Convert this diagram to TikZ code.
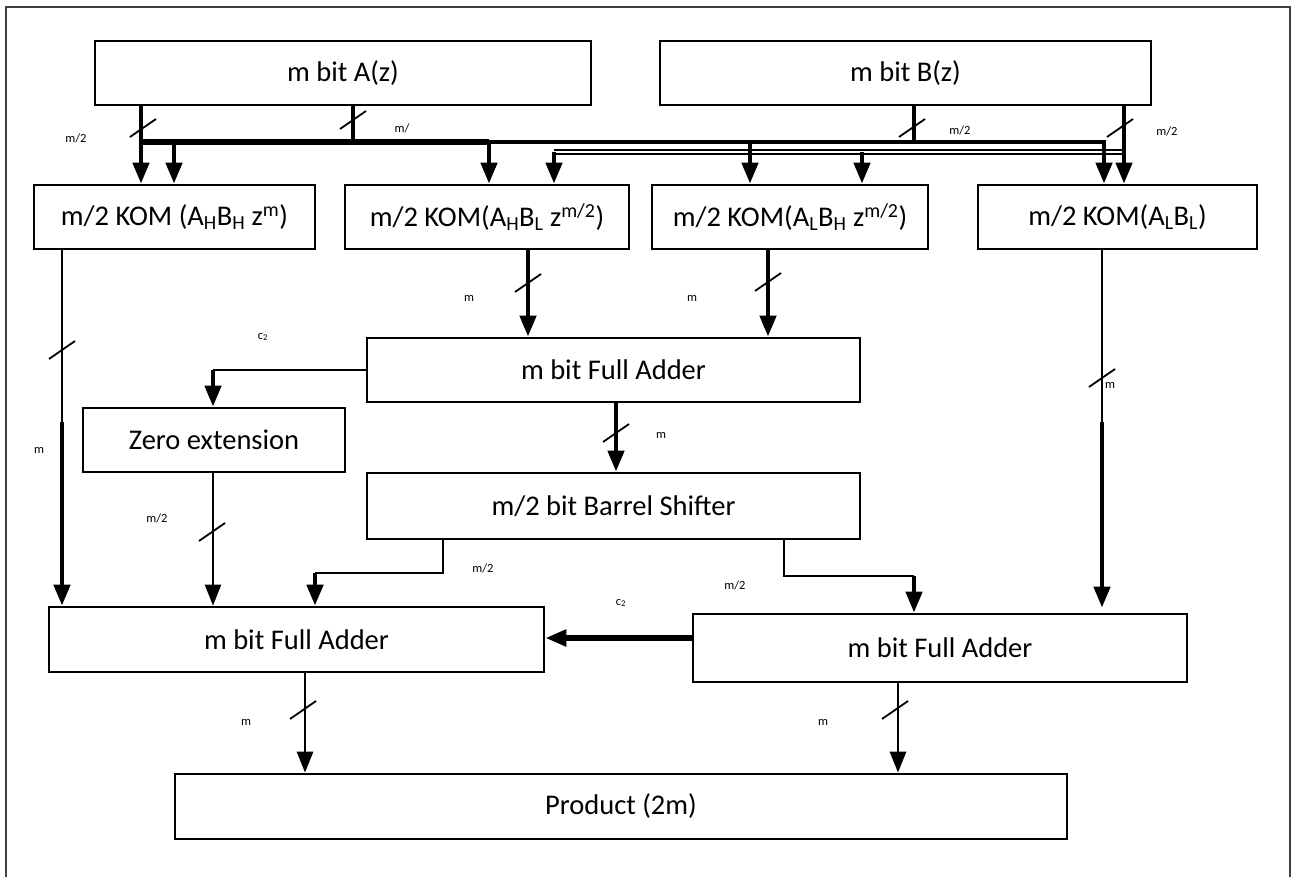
\documentclass[tikz,border=0pt]{standalone}
\usepackage{fontspec}
\setmainfont{Carlito}
\usetikzlibrary{arrows.meta,calc}
\tikzset{
  box/.style={draw,line width=2.7pt,fill=white,inner sep=0pt,font=\fontsize{28.5}{32}\selectfont},
  lbl/.style={font=\fontsize{12.5}{14}\selectfont,inner sep=0pt},
  wire/.style={line width=2.2pt},
  bus/.style={line width=4.5pt},
  tip/.style={-{Triangle[length=21pt,width=16pt]}},
  hollow/.style={line width=1.4pt,double=white,double distance=2.8pt},
  slashmark/.pic={\draw[line width=1.8pt] (-13,9) -- (13,-9);}
}
\begin{document}
\begin{tikzpicture}[x=1pt,y=-1pt,line join=miter]
\useasboundingbox (0,0) rectangle (1294,877);
\draw[line width=2.4pt,black!75] (6,880) -- (6,7) -- (1290,7) -- (1290,880);

% boxes
\node[box,minimum width=496pt,minimum height=64pt] (A) at (343,73) {m bit A(z)};
\node[box,minimum width=491pt,minimum height=64pt] (B) at (905.5,73) {m bit B(z)};
\node[box,minimum width=281pt,minimum height=64pt] (K1) at (174.5,217) {m/2 KOM (A\textsubscript{H}B\textsubscript{H} z\textsuperscript{m})};
\node[box,minimum width=284pt,minimum height=64pt] (K2) at (487,217) {m/2 KOM(A\textsubscript{H}B\textsubscript{L} z\textsuperscript{m/2})};
\node[box,minimum width=276pt,minimum height=64pt] (K3) at (790,217) {m/2 KOM(A\textsubscript{L}B\textsubscript{H} z\textsuperscript{m/2})};
\node[box,minimum width=279pt,minimum height=64pt] (K4) at (1117.5,217) {m/2 KOM(A\textsubscript{L}B\textsubscript{L})};
\node[box,minimum width=493pt,minimum height=64pt] (FAm) at (613.5,370) {m bit Full Adder};
\node[box,minimum width=262pt,minimum height=64pt] (Zero) at (214,440) {Zero extension};
\node[box,minimum width=493pt,minimum height=66pt] (Bar) at (613.5,506) {m/2 bit Barrel Shifter};
\node[box,minimum width=495pt,minimum height=65pt] (FAL) at (296.5,639.5) {m bit Full Adder};
\node[box,minimum width=494pt,minimum height=68pt] (FAR) at (940,648) {m bit Full Adder};
\node[box,minimum width=892pt,minimum height=65pt] (Prod) at (621,806.5) {Product (2m)};

% columns and rows
\coordinate (xA1) at (141,0);
\coordinate (xA2) at (353,0);
\coordinate (xb1) at (174,0);
\coordinate (xb2) at (489,0);
\coordinate (xb3) at (750,0);
\coordinate (xb4) at (1104,0);
\coordinate (xB1) at (914,0);
\coordinate (xB2) at (1124,0);
\coordinate (xh1) at (554,0);
\coordinate (xh2) at (862,0);
\coordinate (ybus) at (0,142);
\coordinate (yhol) at (0,152);
\coordinate (xk1) at (62,0);
\coordinate (xk2) at (528,0);
\coordinate (xk3) at (768,0);
\coordinate (xk4) at (1102,0);
\coordinate (ymid) at (0,422);
\coordinate (xz) at (213,0);
\coordinate (xf) at (616,0);
\coordinate (xs1) at (443,0);
\coordinate (xs2) at (315,0);
\coordinate (xs3) at (784,0);
\coordinate (xs4) at (914,0);
\coordinate (ys1) at (0,573);
\coordinate (ys2) at (0,576);
\coordinate (ycar) at (0,638);
\coordinate (xp1) at (305,0);
\coordinate (xp2) at (898,0);

% top distribution
\draw[hollow] (xh1 |- yhol) -- (xB2 |- yhol);
\draw[bus,tip] (A.south -| xA1) -- (K1.north -| xA1);
\draw[bus] (A.south -| xA2) -- (xA2 |- ybus);
\draw[bus,tip] (xA1 |- ybus) -- (xb4 |- ybus) -- (K4.north -| xb4);
\draw[line width=6pt] (xA1 |- ybus) -- (xb2 |- ybus);
\draw[bus,tip] (xb1 |- ybus) -- (K1.north -| xb1);
\draw[bus,tip] (xb2 |- ybus) -- (K2.north -| xb2);
\draw[bus,tip] (xb3 |- ybus) -- (K3.north -| xb3);
\draw[bus] (B.south -| xB1) -- (xB1 |- ybus);
\draw[bus,tip] (B.south -| xB2) -- (K4.north -| xB2);
\draw[bus,tip] (xh1 |- yhol) -- (K2.north -| xh1);
\draw[bus,tip] (xh2 |- yhol) -- (K3.north -| xh2);

% middle
\draw[wire] (K1.south -| xk1) -- (xk1 |- ymid);
\draw[bus,tip] (xk1 |- ymid) -- (FAL.north -| xk1);
\draw[bus,tip] (K2.south -| xk2) -- (FAm.north -| xk2);
\draw[bus,tip] (K3.south -| xk3) -- (FAm.north -| xk3);
\draw[wire] (K4.south -| xk4) -- (xk4 |- ymid);
\draw[bus,tip,shorten >=5pt] (xk4 |- ymid) -- (FAR.north -| xk4);
\draw[wire] (FAm.west) -- (FAm.west -| xz);
\draw[bus,tip] (FAm.west -| xz) -- (Zero.north -| xz);
\draw[bus,tip] (FAm.south -| xf) -- (Bar.north -| xf);
\draw[wire,tip] (Zero.south -| xz) -- (FAL.north -| xz);
\draw[wire] (Bar.south -| xs1) -- (xs1 |- ys1) -- (xs2 |- ys1);
\draw[bus,tip] (xs2 |- ys1) -- (FAL.north -| xs2);
\draw[wire] (Bar.south -| xs3) -- (xs3 |- ys2) -- (xs4 |- ys2);
\draw[bus,tip] (xs4 |- ys2) -- (FAR.north -| xs4);
\draw[line width=5.5pt,tip] (FAR.west |- ycar) -- (FAL.east |- ycar);
\draw[line width=2.8pt,tip] (FAL.south -| xp1) -- (Prod.north -| xp1);
\draw[line width=2.8pt,tip] (FAR.south -| xp2) -- (Prod.north -| xp2);

% bus-width slashes
\pic at (143,128) {slashmark};
\pic at (353,120) {slashmark};
\pic at (912,128) {slashmark};
\pic at (1120,128) {slashmark};
\pic at (62,350) {slashmark};
\pic at (528,283) {slashmark};
\pic at (768,282) {slashmark};
\pic at (1102,378) {slashmark};
\pic at (616,433) {slashmark};
\pic at (212,532) {slashmark};
\pic at (303,710) {slashmark};
\pic at (895,710) {slashmark};

% labels
\node[lbl] (l1) at (76,138) {m/2};
\node[lbl] (l2) at (402,128) {m/};
\node[lbl] (l3) at (960,130) {m/2};
\node[lbl] (l4) at (1167,131) {m/2};
\node[lbl] (l5) at (39,450) {m};
\node[lbl] (l6) at (469,298) {m};
\node[lbl] (l7) at (692,298) {m};
\node[lbl] (l8) at (1110,385) {m};
\node[lbl] (l9) at (263,337) {c\textsubscript{2}};
\node[lbl] (l10) at (661,435) {m};
\node[lbl] (l11) at (157,518) {m/2};
\node[lbl] (l12) at (483,568) {m/2};
\node[lbl] (l13) at (735,585) {m/2};
\node[lbl] (l14) at (621,603) {c\textsubscript{2}};
\node[lbl] (l15) at (246,722) {m};
\node[lbl] (l16) at (823,722) {m};
\end{tikzpicture}
\end{document}
